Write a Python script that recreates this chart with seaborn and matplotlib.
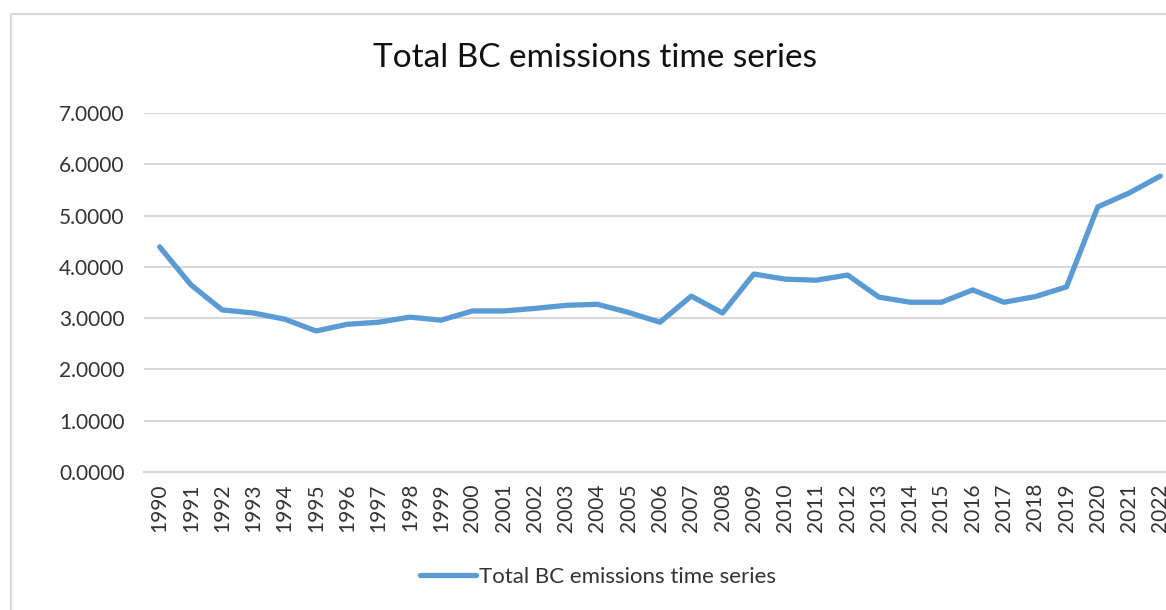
import matplotlib
matplotlib.use("Agg")
import matplotlib.pyplot as plt
from matplotlib.patches import Rectangle
import seaborn as sns
import pandas as pd

# values
years = list(range(1990, 2023))
emissions = [4.39, 3.65, 3.16, 3.10, 2.98, 2.75, 2.88, 2.92, 3.02, 2.96,
             3.14, 3.14, 3.19, 3.25, 3.27, 3.11, 2.92, 3.43, 3.10, 3.86,
             3.76, 3.74, 3.84, 3.41, 3.31, 3.31, 3.55, 3.31, 3.42, 3.61,
             5.17, 5.44, 5.77]
y_ticks = [0, 1, 2, 3, 4, 5, 6, 7]
series_name = "Total BC emissions time series"

df = pd.DataFrame({"year": years, "value": emissions})

sns.set_theme(style="white")
plt.rcParams["font.family"] = ["Lato", "DejaVu Sans"]

W, H = 1166, 610
fig = plt.figure(figsize=(W / 100, H / 100), dpi=100)
ax = fig.add_axes([144 / W, 138 / H, (1176 - 144) / W, (472 - 113) / H])

line_color = "#5B9BD5"
sns.lineplot(data=df, x="year", y="value", ax=ax, color=line_color,
             linewidth=3.8, label=series_name, legend=False)

ax.set_xlim(years[0] - 0.5, years[-1] + 0.5)
ax.set_ylim(0, 7)
ax.set_xticks(years)
ax.set_xticklabels([str(y) for y in years], rotation=90)
ax.set_yticks(y_ticks)
ax.set_yticklabels([f"{v:.4f}" for v in y_ticks])
ax.set_xlabel("")
ax.set_ylabel("")
ax.grid(axis="y", color="#d9d9d9", linewidth=1.5)
ax.set_axisbelow(True)
for s in ["top", "right", "left"]:
    ax.spines[s].set_visible(False)
ax.spines["bottom"].set_color("#d9d9d9")
ax.spines["bottom"].set_linewidth(1.5)
ax.tick_params(axis="y", length=0, pad=14, labelsize=15, labelcolor="#333333")
ax.tick_params(axis="x", length=0, pad=8, labelsize=15, labelcolor="#333333")
ax.set_facecolor("none")

fig.text(595 / W, 1 - 58 / H, series_name, ha="center", va="center",
         fontsize=24, color="#111111")

handles, labels = ax.get_legend_handles_labels()
fig.legend(handles, labels, loc="center", bbox_to_anchor=(598 / W, 1 - 577 / H),
           frameon=False, fontsize=16, handlelength=2.5, handletextpad=0.15,
           labelcolor="#333333")

fig.patches.append(Rectangle((11 / W, -0.1), 1.2, 1.1 - 14 / H,
                             transform=fig.transFigure, fill=False,
                             edgecolor="#d9d9d9", linewidth=1.5))

fig.savefig("out.png", dpi=100)
